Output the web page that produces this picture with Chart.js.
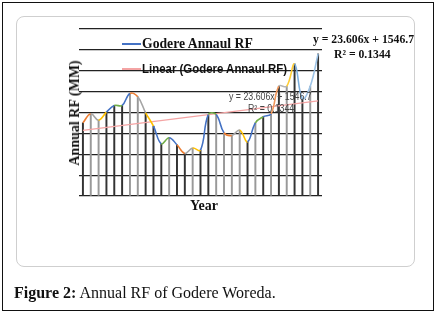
<!DOCTYPE html>
<html>
<head>
<meta charset="utf-8">
<script src="https://cdn.jsdelivr.net/npm/chart.js@4/dist/chart.umd.min.js"></script>
<style>
  html,body{margin:0;padding:0;background:#fff;}
  #wrap{position:relative;width:438px;height:316px;overflow:hidden;}
  #outer{position:absolute;left:2px;top:2px;width:432px;height:309px;border:1.5px solid #111;box-sizing:border-box;}
  #box{position:absolute;left:16px;top:16px;width:399px;height:251px;border:1.5px solid #cfcfcf;border-radius:8px;box-sizing:border-box;}
  #c{position:absolute;left:0;top:0;}
  .t{position:absolute;white-space:nowrap;line-height:1;transform-origin:0 0;}
  .serifb{font-family:"Liberation Serif","Times New Roman",serif;font-weight:bold;color:#111;}
</style>
</head>
<body>
<div id="wrap">
  <div id="outer"></div>
  <div id="box"></div>
  <canvas id="c" width="438" height="316"></canvas>
  <div class="t" style="left:122px;top:43px;width:19px;height:2px;background:#4472C4;"></div>
  <div class="t serifb" style="left:142px;top:37px;font-size:13.7px;">Godere Annaul RF</div>
  <div class="t" style="left:122px;top:68px;width:19px;height:1.5px;background:#F4A4A4;"></div>
  <div class="t" style="left:142px;top:62px;font-size:13px;font-family:'Liberation Sans Narrow','Liberation Sans',sans-serif;font-weight:bold;color:#111;transform:scaleX(0.88);">Linear (Godere Annaul RF)</div>
  <div class="t serifb" style="left:313px;top:32px;font-size:13px;transform:scaleX(0.9);">y = 23.606x + 1546.7</div>
  <div class="t serifb" style="left:334px;top:47px;font-size:13px;transform:scaleX(0.9);">R² = 0.1344</div>
  <div class="t" style="left:229px;top:92px;font-size:10px;font-family:'Liberation Sans Narrow','Liberation Sans',sans-serif;color:#444;transform:scaleX(0.88);">y = 23.606x + 1546.7</div>
  <div class="t" style="left:248px;top:104px;font-size:10px;font-family:'Liberation Sans Narrow','Liberation Sans',sans-serif;color:#444;transform:scaleX(0.88);">R² = 0.1344</div>
  <div class="t serifb" style="left:190px;top:199px;font-size:14px;">Year</div>
  <div class="t serifb" style="left:75px;top:113px;font-size:14px;transform-origin:50% 50%;transform:translate(-50%,-50%) rotate(-90deg);">Annual RF (MM)</div>
  <div class="t" style="left:14px;top:285px;font-size:16px;font-family:'Liberation Serif','Times New Roman',serif;color:#111;"><b>Figure 2:</b> Annual RF of Godere Woreda.</div>
</div>
<script>
// Data
const years = ["1","2","3","4","5","6","7","8","9","10","11","12","13","14","15","16","17","18","19","20","21","22","23","24","25","26","27","28","29","30","31"];
const annualRF = [1753,1969,1817,2008,2168,2168,2455,2375,1993,1674,1251,1395,1227,1020,1148,1100,1953,1953,1514,1450,1578,1299,1753,1897,1969,2630,2630,3164,2327,2630,3403];
const trendRF = [1570,null,null,null,null,null,null,null,null,null,null,null,null,null,null,null,null,null,null,null,null,null,null,null,null,null,null,null,null,null,2278];
const yTicks = [0,500,1000,1500,2000,2500,3000,3500,4000];

const segColors = ["#ED7D31","#A5A5A5","#FFC000","#4472C4","#70AD47","#4472C4",
                   "#ED7D31","#A5A5A5","#FFC000","#4472C4","#70AD47","#4472C4",
                   "#ED7D31","#A5A5A5","#FFC000","#4472C4","#70AD47","#4472C4",
                   "#ED7D31","#A5A5A5","#FFC000","#4472C4","#70AD47","#4472C4",
                   "#F1975A","#B7B7B7","#FFCD33","#7CAFDD","#9DC3E6","#9DC3E6"];
const dropPattern = ["#333","#999","#999","#333","#333","#333","#999","#999","#333","#333","#333","#999","#333","#333","#999","#333","#333","#999","#999","#999","#999","#333","#999","#333","#999","#333","#999","#333","#333","#999","#333"];

new Chart(document.getElementById('c'), {
  data: {
    labels: years,
    datasets: [
      { type:'line', data: annualRF, borderWidth:1.6, pointRadius:0, tension:0.4,
        segment:{ borderColor: ctx => segColors[ctx.p0DataIndex % segColors.length] }, order:1 },
      { type:'line', data: trendRF, spanGaps:true, borderColor:'#F4A4A4', borderWidth:1.3, pointRadius:0, tension:0, order:2 },
      { type:'bar', data: annualRF, backgroundColor: dropPattern, barThickness:1.3, order:3 }
    ]
  },
  options: {
    responsive:false, animation:false,
    layout:{ padding:{ left:79, right:116, top:29, bottom:120 } },
    plugins:{ legend:{display:false}, tooltip:{enabled:false} },
    scales:{
      x:{ offset:true, grid:{display:false, drawTicks:false}, ticks:{display:false}, border:{display:false} },
      y:{ min:0, max:4000, afterBuildTicks: s => { s.ticks = yTicks.map(v => ({value:v})); },
          grid:{ color:'#222', lineWidth:1.2, drawTicks:false }, ticks:{display:false}, border:{display:false} }
    }
  }
});
</script>
</body>
</html>
